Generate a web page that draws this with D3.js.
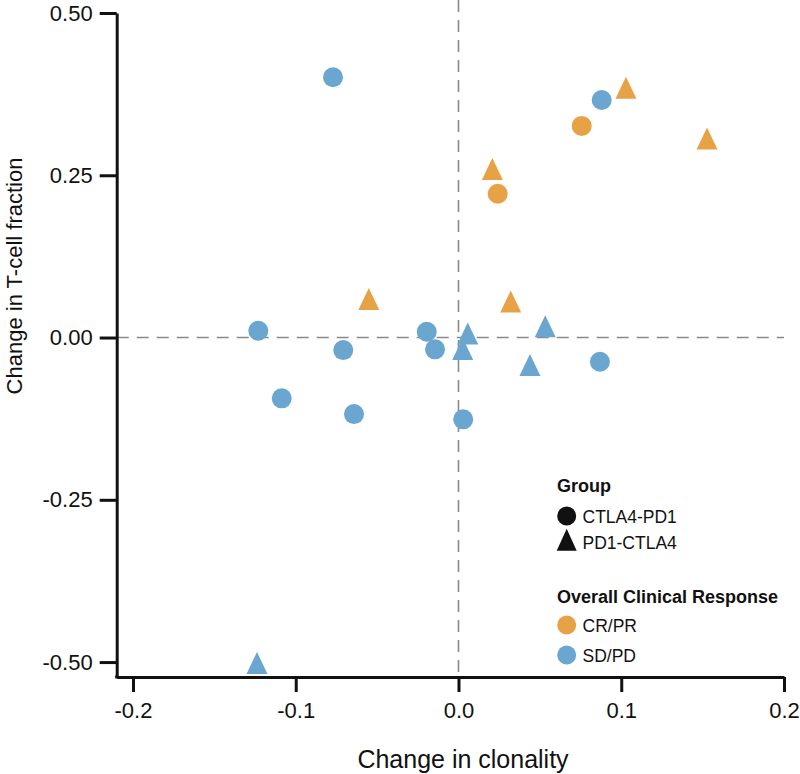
<!DOCTYPE html>
<html>
<head>
<meta charset="utf-8">
<script src="https://cdn.jsdelivr.net/npm/d3@7"></script>
<style>
  html, body { margin: 0; padding: 0; background: #fff; }
  svg { display: block; font-family: Arial, "Liberation Sans", Helvetica, sans-serif; }
</style>
</head>
<body>
<svg id="chart" width="800" height="774"></svg>
<script>
// ---- data ----
const clonality = [-0.0771, 0.0880, -0.1230, -0.0708, -0.0195, -0.0144, -0.1086, -0.0642, 0.0029, 0.0869,
                   0.0057, 0.0026, 0.0533, 0.0439, -0.1238,
                   0.0757, 0.0241,
                   0.1029, 0.1527, 0.0208, -0.0551, 0.0321];
const tcellFraction = [0.401, 0.366, 0.0105, -0.0193, 0.0089, -0.0182, -0.0937, -0.1179, -0.126, -0.0373,
                       0.0005, -0.0234, 0.0116, -0.048, -0.507,
                       0.326, 0.2216,
                       0.379, 0.301, 0.254, 0.0536, 0.0498];
const group = ["CTLA4-PD1","CTLA4-PD1","CTLA4-PD1","CTLA4-PD1","CTLA4-PD1","CTLA4-PD1","CTLA4-PD1","CTLA4-PD1","CTLA4-PD1","CTLA4-PD1",
               "PD1-CTLA4","PD1-CTLA4","PD1-CTLA4","PD1-CTLA4","PD1-CTLA4",
               "CTLA4-PD1","CTLA4-PD1",
               "PD1-CTLA4","PD1-CTLA4","PD1-CTLA4","PD1-CTLA4","PD1-CTLA4"];
const response = ["SD/PD","SD/PD","SD/PD","SD/PD","SD/PD","SD/PD","SD/PD","SD/PD","SD/PD","SD/PD",
                  "SD/PD","SD/PD","SD/PD","SD/PD","SD/PD",
                  "CR/PR","CR/PR",
                  "CR/PR","CR/PR","CR/PR","CR/PR","CR/PR"];
const groupLevels = ["CTLA4-PD1", "PD1-CTLA4"];
const responseLevels = ["CR/PR", "SD/PD"];
const xTicks = [-0.2, -0.1, 0.0, 0.1, 0.2];
const yTicks = [-0.50, -0.25, 0.00, 0.25, 0.50];

// ---- setup ----
const svg = d3.select("#chart");
const FONT = 'Arial, "Liberation Sans", Helvetica, sans-serif';
const x = d3.scaleLinear().domain([-0.21, 0.2]).range([116.7, 784]);
const y = d3.scaleLinear().domain([-0.523, 0.5]).range([677, 13]);
const color = d3.scaleOrdinal().domain(responseLevels).range(["#e8a246", "#6aa6cf"]);

const triPath = (w, h) => `M0,${-2*h/3}L${w/2},${h/3}L${-w/2},${h/3}Z`;
const shapeFn = g => g === "PD1-CTLA4" ? triPath(21, 22) : d3.symbol(d3.symbolCircle, Math.PI * 100)();

const fmt = f => d => d3.format(f)(d).replace("\u2212", "-");

// reference lines
svg.append("line")
  .attr("x1", x(0)).attr("x2", x(0)).attr("y1", 0).attr("y2", y(-0.523))
  .attr("stroke", "#8a8a8a").attr("stroke-width", 1.6).attr("stroke-dasharray", "12,8");
svg.append("line")
  .attr("x1", x(-0.21)).attr("x2", x(0.2)).attr("y1", y(0)).attr("y2", y(0))
  .attr("stroke", "#8a8a8a").attr("stroke-width", 1.6).attr("stroke-dasharray", "12,8");

// axes
const xAxis = svg.append("g").attr("transform", `translate(0,${y(-0.523)})`)
  .call(d3.axisBottom(x).tickValues(xTicks).tickFormat(fmt(".1f")).tickSize(15).tickSizeOuter(0).tickPadding(10));
const yAxis = svg.append("g").attr("transform", `translate(${x(-0.21)},0)`)
  .call(d3.axisLeft(y).tickValues(yTicks).tickFormat(fmt(".2f")).tickSize(17).tickSizeOuter(0).tickPadding(7));
[xAxis, yAxis].forEach(a => {
  a.select(".domain").attr("stroke", "#111").attr("stroke-width", 3);
  a.selectAll(".tick line").attr("stroke", "#111").attr("stroke-width", 3);
  a.selectAll(".tick text").attr("fill", "#111").style("font-family", FONT).style("font-size", "22px");
});
// extend corner so lines join
svg.append("rect").attr("x", x(-0.21) - 1.5).attr("y", y(-0.523) - 1.5).attr("width", 3).attr("height", 3).attr("fill", "#111");

// axis titles
svg.append("text").attr("x", 463).attr("y", 768).attr("text-anchor", "middle")
  .style("font-family", FONT).style("font-size", "25px").attr("fill", "#111").text("Change in clonality");
svg.append("text").attr("transform", "translate(22,276) rotate(-90)").attr("text-anchor", "middle")
  .style("font-family", FONT).style("font-size", "22px").attr("fill", "#111").text("Change in T-cell fraction");

// points
const idx = d3.range(clonality.length);
svg.append("g").selectAll("path").data(idx).join("path")
  .attr("transform", i => `translate(${x(clonality[i])},${y(tcellFraction[i])})`)
  .attr("d", i => shapeFn(group[i]))
  .attr("fill", i => color(response[i]));

// legend
const lg = svg.append("g");
lg.append("text").attr("x", 557).attr("y", 492).style("font-family", FONT).style("font-size", "18px")
  .style("font-weight", "bold").attr("fill", "#111").text("Group");
const gY = [516, 542];
groupLevels.forEach((g, i) => {
  lg.append("path").attr("transform", `translate(566.7,${gY[i] + (i === 1 ? 1.5 : 0)})`).attr("d", i === 1 ? triPath(20, 22) : d3.symbol(d3.symbolCircle, Math.PI * 90)()).attr("fill", "#111");
  lg.append("text").attr("x", 582.5).attr("y", gY[i] + 7).style("font-family", FONT).style("font-size", "17.5px")
    .attr("fill", "#111").text(g);
});
lg.append("text").attr("x", 557).attr("y", 603).style("font-family", FONT).style("font-size", "18px")
  .style("font-weight", "bold").attr("fill", "#111").text("Overall Clinical Response");
const rY = [625, 655];
responseLevels.forEach((r, i) => {
  lg.append("path").attr("transform", `translate(566.7,${rY[i]})`).attr("d", d3.symbol(d3.symbolCircle, Math.PI * 90)()).attr("fill", color(r));
  lg.append("text").attr("x", 582.5).attr("y", rY[i] + 7).style("font-family", FONT).style("font-size", "17.5px")
    .attr("fill", "#111").text(r);
});
</script>
</body>
</html>
